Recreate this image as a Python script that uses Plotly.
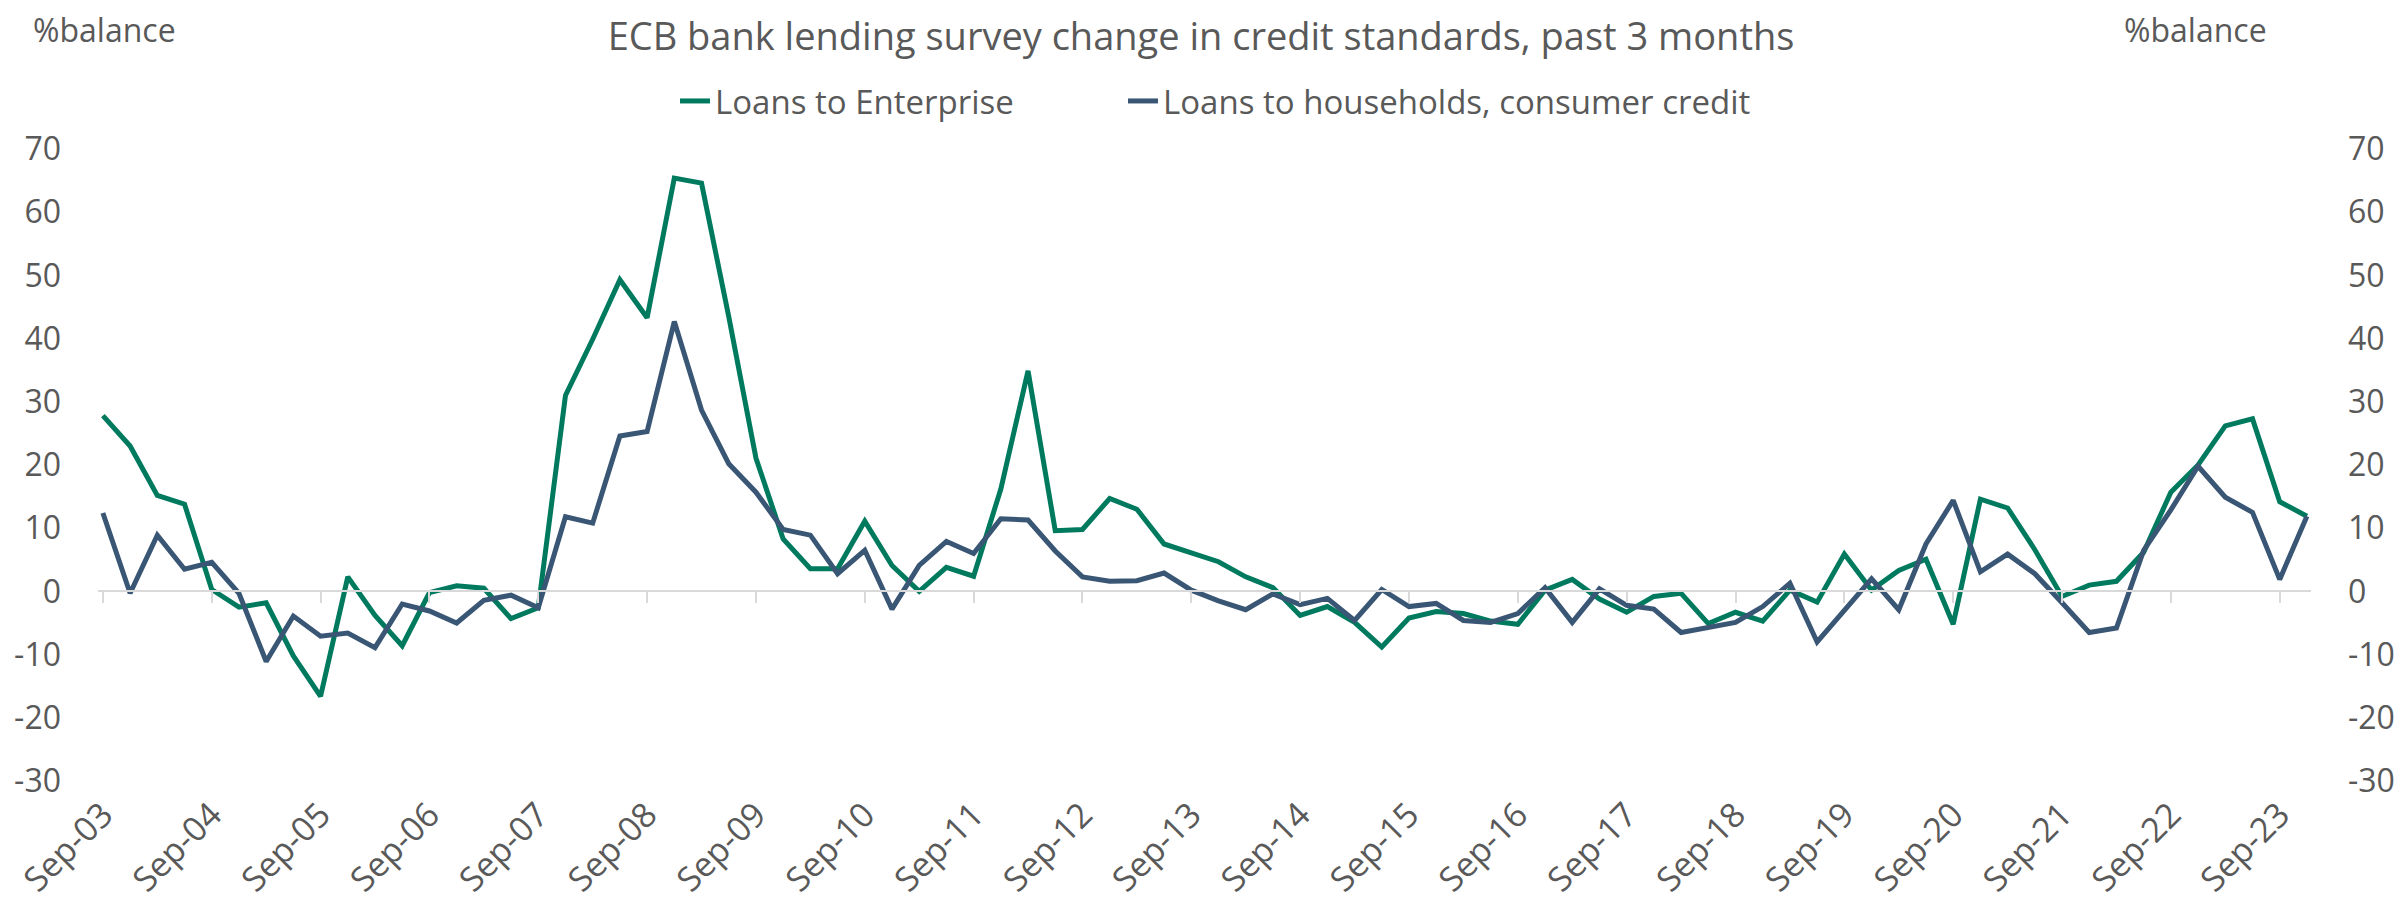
import plotly.graph_objects as go

# Quarterly, Sep-03 .. Dec-23
quarters = list(range(82))
tick_positions = list(range(0, 81, 4))
tick_labels = ["Sep-%02d" % y for y in range(3, 24)]

y_tick_values = list(range(-30, 71, 10))
y_tick_labels = [str(v) for v in y_tick_values]  # plain hyphen minus, as in the source

enterprise = [27.8, 23.0, 15.2, 13.8, 0.3, -2.5, -1.8, -10.2, -16.6, 2.3,
              -3.8, -8.6, -0.2, 0.9, 0.5, -4.3, -2.6, 31.0, 39.9, 49.3,
              43.3, 65.4, 64.6, 43.5, 21.1, 8.3, 3.6, 3.6, 11.1, 4.1,
              0.0, 3.8, 2.4, 16.2, 34.9, 9.6, 9.8, 14.7, 13.0, 7.5,
              6.1, 4.7, 2.3, 0.6, -3.8, -2.4, -4.9, -8.8, -4.2, -3.2,
              -3.5, -4.7, -5.2, 0.2, 1.9, -1.2, -3.3, -0.8, -0.3, -5.1,
              -3.3, -4.7, 0.2, -1.7, 5.9, 0.2, 3.3, 5.1, -5.2, 14.6,
              13.2, 6.6, -0.8, 1.0, 1.6, 6.2, 15.7, 20.0, 26.2, 27.3,
              14.2, 11.9]

households = [12.4, -0.3, 8.9, 3.5, 4.6, -0.3, -11.1, -3.9, -7.1, -6.6,
              -8.9, -2.0, -3.1, -5.0, -1.4, -0.6, -2.6, 11.8, 10.8, 24.6,
              25.3, 42.7, 28.7, 20.2, 15.7, 9.8, 8.9, 2.8, 6.5, -2.8,
              4.1, 7.9, 6.0, 11.5, 11.3, 6.4, 2.3, 1.6, 1.7, 2.9,
              0.2, -1.5, -2.9, -0.4, -2.1, -1.1, -4.6, 0.3, -2.4, -1.9,
              -4.6, -4.9, -3.5, 0.6, -4.9, 0.4, -2.2, -2.8, -6.5, -5.7,
              -4.9, -2.4, 1.3, -8.0, -2.9, 2.0, -2.9, 7.5, 14.4, 3.1,
              5.9, 2.8, -1.8, -6.5, -5.8, 6.5, 12.9, 19.8, 14.9, 12.5,
              1.9, 11.9]

series_names = ["Loans to Enterprise", "Loans to households, consumer credit"]
colors = ["#007A5E", "#3A5675"]
y_range = [-30, 70]
x_range = [-0.18, 81.15]

FONT = "Open Sans"
GREY = "#595959"
AXIS_GREY = "#D9D9D9"

# page has an 8px body margin, so the figure is drawn 8px smaller
W, H = 2395, 902
L, R, T, B = 90, 92, 141, 129
PW = W - L - R
PH = H - T - B


def px(xpix):
    return (xpix - L) / PW


def py(ypix):
    return (H - B - ypix) / PH


fig = go.Figure()
fig.add_trace(go.Scatter(x=quarters, y=enterprise, mode="lines", name=series_names[0],
                         line=dict(color=colors[0], width=5), xaxis="x", yaxis="y",
                         legend="legend"))
fig.add_trace(go.Scatter(x=quarters, y=households, mode="lines", name=series_names[1],
                         line=dict(color=colors[1], width=5), xaxis="x2", yaxis="y2",
                         legend="legend2"))

legend_common = dict(orientation="h", xanchor="left", yanchor="middle", y=py(93),
                     font=dict(size=33, color=GREY, family=FONT),
                     bgcolor="rgba(0,0,0,0)")

yaxis_common = dict(range=y_range, tickvals=y_tick_values, ticktext=y_tick_labels,
                    showgrid=False, zeroline=False, showline=False, ticks="",
                    tickfont=dict(size=32, color=GREY), ticklabelstandoff=36,
                    automargin=False)

fig.update_layout(
    width=W, height=H,
    margin=dict(l=L, r=R, t=T, b=B, autoexpand=False),
    paper_bgcolor="white", plot_bgcolor="white",
    font=dict(family=FONT, color=GREY, size=32),
    title=dict(text="ECB bank lending survey change in credit standards, past 3 months",
               x=1193 / W, xanchor="center", y=1 - 29 / H, yanchor="middle",
               font=dict(size=38, color=GREY, family=FONT)),
    showlegend=True,
    legend=dict(x=px(667), **legend_common),
    legend2=dict(x=px(1115), **legend_common),
    xaxis=dict(range=x_range, tickvals=tick_positions, ticktext=tick_labels,
               tickangle=-45, showgrid=False, zeroline=False, showline=False,
               ticks="", tickfont=dict(size=34, color=GREY), ticklabelstandoff=6,
               automargin=False),
    xaxis2=dict(range=x_range, overlaying="x", anchor="free", position=0.3,
                tickvals=tick_positions, showticklabels=False, showgrid=False,
                zeroline=False, showline=True, linecolor=AXIS_GREY, linewidth=2,
                ticks="outside", ticklen=11, tickwidth=2, tickcolor=AXIS_GREY),
    yaxis=dict(**yaxis_common),
    yaxis2=dict(overlaying="y", side="right", anchor="x2", **yaxis_common),
    annotations=[
        dict(text="%balance", xref="paper", yref="paper", x=px(23), xanchor="left",
             y=py(21), yanchor="middle", showarrow=False,
             font=dict(size=32, color=GREY, family=FONT)),
        dict(text="%balance", xref="paper", yref="paper", x=px(2114), xanchor="left",
             y=py(21), yanchor="middle", showarrow=False,
             font=dict(size=32, color=GREY, family=FONT)),
    ],
)

fig.write_html("out.html")
